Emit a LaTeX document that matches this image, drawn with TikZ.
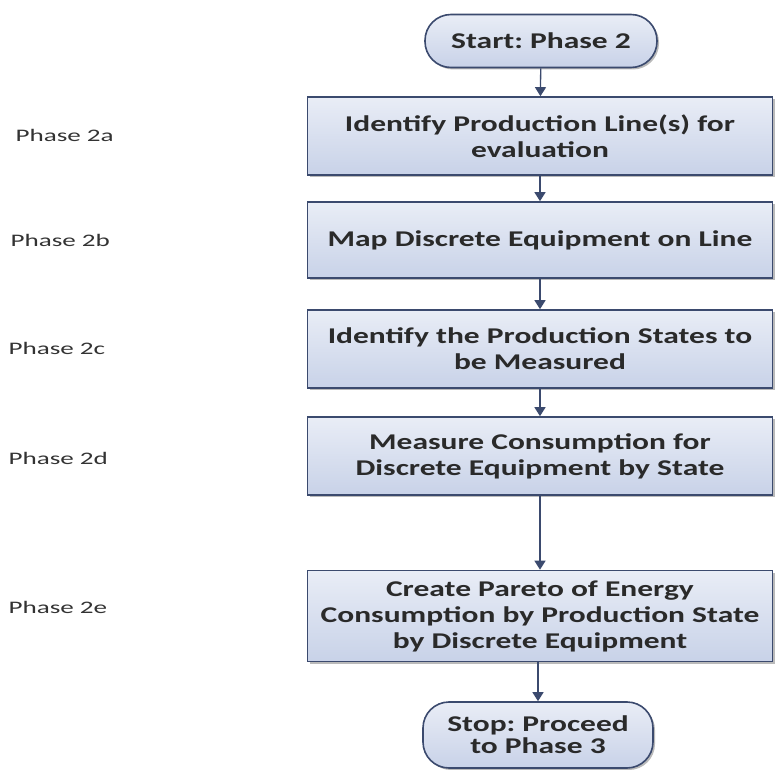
\documentclass[tikz,border=0pt]{standalone}
\usepackage{fontspec}
\setmainfont{Carlito}
\newfontfamily\boxfont[FakeStretch=1.4]{Carlito}
\newfontfamily\labelfont[FakeStretch=1.54]{Carlito}
\usetikzlibrary{arrows.meta,shadows}
\frenchspacing
\definecolor{edge}{HTML}{3B4A6E}
\definecolor{boxtop}{HTML}{E9EDF6}
\definecolor{boxbot}{HTML}{C8D2E8}
\definecolor{labelgray}{HTML}{333333}
\definecolor{textdark}{HTML}{2A2A2A}
\tikzset{
  base/.style={draw=edge, line width=1.6pt, top color=boxtop, bottom color=boxbot,
    align=center, font=\boxfont\bfseries\fontsize{22.5}{26}\selectfont, text=textdark,
    drop shadow={shadow xshift=2pt, shadow yshift=-2pt, fill=black!45, opacity=0.6}},
  stepbox/.style={base, rectangle, minimum width=465pt, inner sep=0pt},
  terminal/.style={base, rectangle, rounded corners=26pt, inner sep=0pt},
  phase/.style={anchor=west, font=\labelfont\fontsize{17.6}{20}\selectfont, text=labelgray},
  flow/.style={draw=edge, line width=1.3pt, -{Triangle[length=9pt,width=11pt]}}
}
\begin{document}
\begin{tikzpicture}[x=1pt,y=-1pt]
  \useasboundingbox (0,0) rectangle (780,770);
  % terminals and process steps
  \node[terminal, minimum width=232pt, minimum height=53pt] (start) at (541,41) {Start: Phase 2};
  \node[stepbox, minimum height=78pt] (s1) at (540,136) {Identify Production Line(s) for\\evaluation};
  \node[stepbox, minimum height=76pt] (s2) at (540,240) {Map Discrete Equipment on Line};
  \node[stepbox, minimum height=78pt] (s3) at (540,349) {Identify the Production States to\\be Measured};
  \node[stepbox, minimum height=78pt] (s4) at (540,456) {Measure Consumption for\\Discrete Equipment by State};
  \node[stepbox, minimum height=91pt] (s5) at (540,616) {Create Pareto of Energy\\Consumption by Production State\\by Discrete Equipment};
  \node[terminal, minimum width=230pt, minimum height=66pt,
        font=\boxfont\bfseries\fontsize{22.5}{22}\selectfont] (stop) at (538,735) {Stop: Proceed\\to Phase 3};
  % phase labels
  \node[phase] (p2a) at (12,135) {Phase 2a};
  \node[phase] (p2b) at (7,240) {Phase 2b};
  \node[phase] (p2c) at (5,348) {Phase 2c};
  \node[phase] (p2d) at (5,458) {Phase 2d};
  \node[phase] (p2e) at (5,607) {Phase 2e};
  % connectors
  \draw[flow] (start) -- (s1);
  \draw[flow] (s1) -- (s2);
  \draw[flow] (s2) -- (s3);
  \draw[flow] (s3) -- (s4);
  \draw[flow] (s4) -- (s5);
  \draw[flow] (s5.south -| stop.north) -- (stop);
\end{tikzpicture}
\end{document}
